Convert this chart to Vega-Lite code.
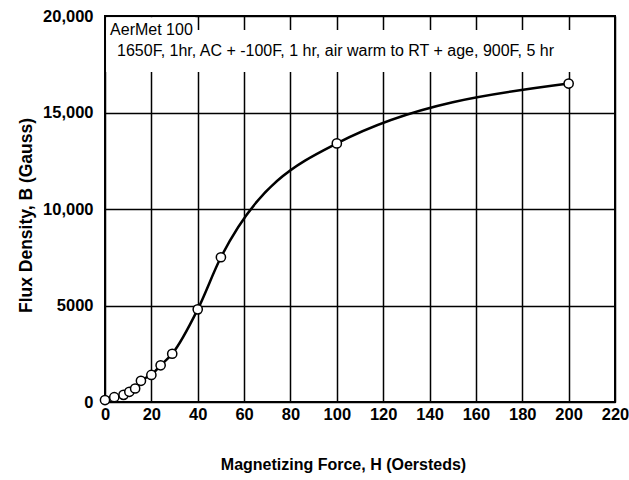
{
  "$schema": "https://vega.github.io/schema/vega-lite/v6.json",
  "width": 510,
  "height": 386,
  "autosize": {"type": "none"},
  "padding": {"left": 105, "top": 16, "right": 14, "bottom": 78},
  "background": "white",
  "config": {
    "font": "Liberation Sans, Arial, sans-serif",
    "view": {"stroke": "black", "strokeWidth": 2},
    "axis": {
      "grid": true,
      "gridColor": "black",
      "gridWidth": 1.5,
      "gridOpacity": 1,
      "domain": false,
      "ticks": false,
      "tickSize": 0,
      "labelColor": "black",
      "labelFont": "Liberation Sans, Arial, sans-serif",
      "labelFontWeight": "bold",
      "labelFontSize": 16.5,
      "titleColor": "black",
      "titleFont": "Liberation Sans, Arial, sans-serif",
      "titleFontWeight": "bold"
    }
  },
  "datasets": {
    "curve": [
      {"H": 0, "B": 100},
      {"H": 4, "B": 250},
      {"H": 8, "B": 370},
      {"H": 10.5, "B": 530},
      {"H": 13, "B": 700},
      {"H": 15.5, "B": 1100},
      {"H": 20, "B": 1400},
      {"H": 24, "B": 1900},
      {"H": 29, "B": 2500},
      {"H": 40, "B": 4800},
      {"H": 50, "B": 7500},
      {"H": 100, "B": 13400},
      {"H": 200, "B": 16500}
    ],
    "notes": [
      {"label": "AerMet 100", "H": 2.2, "B": 19275},
      {"label": "1650F, 1hr, AC + -100F, 1 hr, air warm to RT + age, 900F, 5 hr", "H": 5.2, "B": 18190}
    ],
    "boxes": [
      {"H1": 0.5, "H2": 39, "B1": 18750, "B2": 19940},
      {"H1": 0.5, "H2": 219.5, "B1": 17100, "B2": 19280}
    ]
  },
  "layer": [
    {
      "data": {"name": "boxes"},
      "mark": {"type": "rect", "fill": "white", "strokeWidth": 0},
      "encoding": {
        "x": {
          "field": "H1",
          "type": "quantitative",
          "scale": {"domain": [0, 220], "nice": false, "zero": false},
          "axis": {
            "values": [0, 20, 40, 60, 80, 100, 120, 140, 160, 180, 200, 220],
            "labelFlush": false,
            "labelPadding": 4,
            "labelBaseline": "top",
            "title": "Magnetizing Force, H (Oersteds)",
            "titleFontSize": 16,
            "titleX": 238,
            "titleY": 62,
            "titleBaseline": "middle",
            "titleAlign": "center"
          }
        },
        "x2": {"field": "H2"},
        "y": {
          "field": "B1",
          "type": "quantitative",
          "scale": {"domain": [0, 20000], "nice": false},
          "axis": {
            "values": [0, 5000, 10000, 15000, 20000],
            "labelExpr": "datum.value >= 10000 ? format(datum.value, ',') : format(datum.value, 'd')",
            "labelPadding": 12,
            "labelFlush": false,
            "title": "Flux Density, B (Gauss)",
            "titleFontSize": 17.5,
            "titleAngle": -90,
            "titleX": -79,
            "titleY": 199,
            "titleBaseline": "middle",
            "titleAlign": "center"
          }
        },
        "y2": {"field": "B2"}
      }
    },
    {
      "data": {"name": "curve"},
      "mark": {"type": "line", "interpolate": "monotone", "color": "black", "strokeWidth": 2.5},
      "encoding": {
        "x": {"field": "H", "type": "quantitative"},
        "y": {"field": "B", "type": "quantitative"}
      }
    },
    {
      "data": {"name": "curve"},
      "mark": {"type": "point", "shape": "circle", "filled": true, "fill": "white", "stroke": "black", "strokeWidth": 1.5, "size": 85, "opacity": 1},
      "encoding": {
        "x": {"field": "H", "type": "quantitative"},
        "y": {"field": "B", "type": "quantitative"}
      }
    },
    {
      "data": {"name": "notes"},
      "mark": {"type": "text", "align": "left", "baseline": "middle", "fontSize": 16, "color": "black", "font": "Liberation Sans, Arial, sans-serif"},
      "encoding": {
        "x": {"field": "H", "type": "quantitative"},
        "y": {"field": "B", "type": "quantitative"},
        "text": {"field": "label"}
      }
    }
  ]
}
